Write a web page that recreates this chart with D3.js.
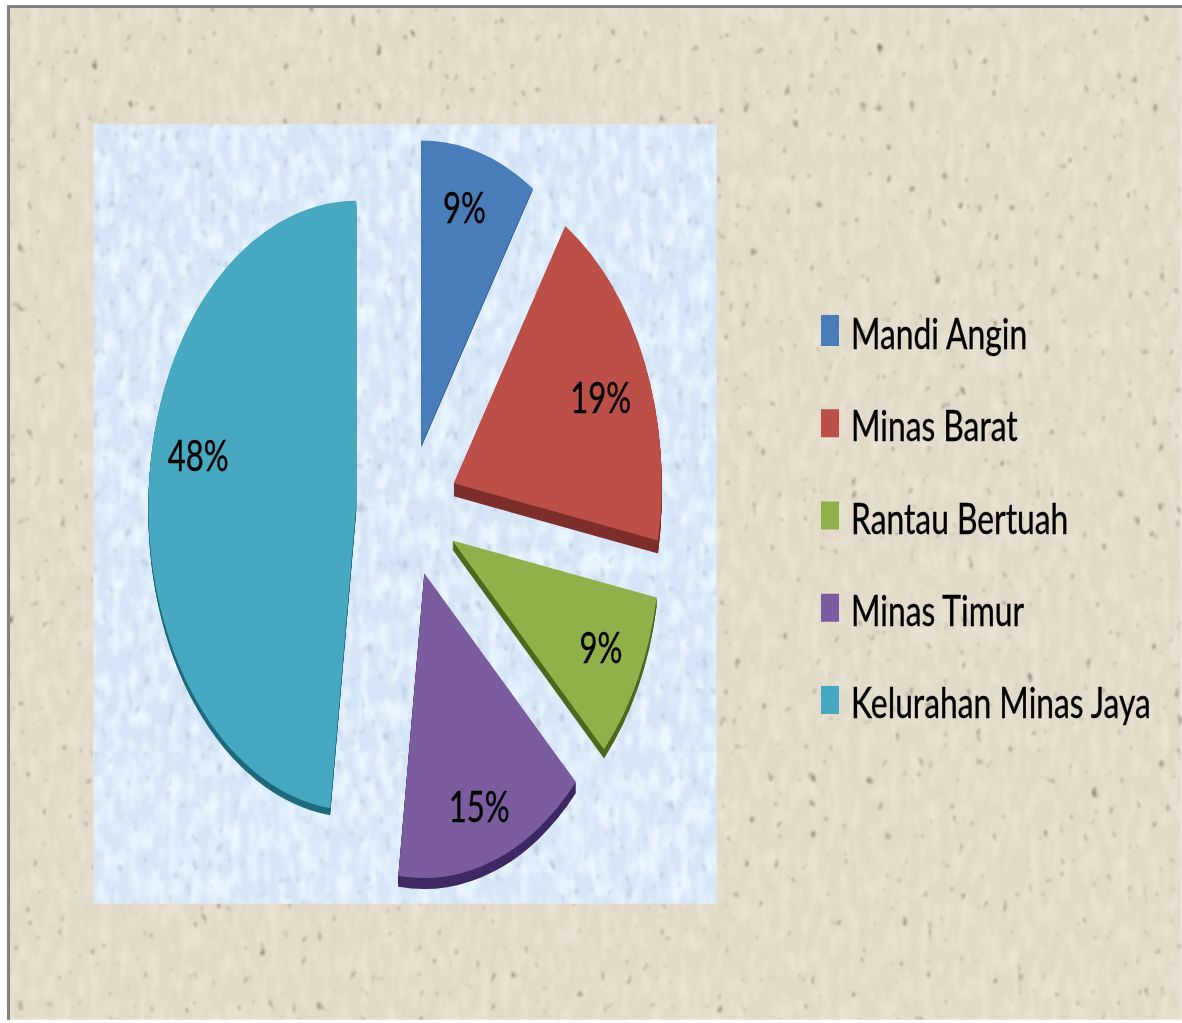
<!DOCTYPE html>
<html>
<head>
<meta charset="utf-8">
<style>
html, body { margin: 0; padding: 0; background: #fff; overflow: hidden; }
svg { display: block; }
</style>
<script src="https://cdn.jsdelivr.net/npm/d3@7"></script>
</head>
<body>
<div id="chart"></div>
<script>
var categories = ["Mandi Angin", "Minas Barat", "Rantau Bertuah", "Minas Timur", "Kelurahan Minas Jaya"];
var values = [9, 19, 9, 15, 48];
var colors = ["#4a7dba", "#bd4f4a", "#90b04a", "#7a5c9f", "#47a8c2"];
var rimColors = ["#345a88", "#7d2f2b", "#4f6a1e", "#3f2a63", "#1f6b7d"];
var rimDepths = [2, 13, 9, 11, 7];
var labelNudgeX = [-2, -2, 4, 0, 4];
var labelNudgeY = [-10, 8, -1, 9, -36];

var width = 1182, height = 1023;
var cx = 407, cy = 510, rx = 208, ry = 305;
var explodeX = 0.245, explodeY = 0.22, labelAt = 0.78;

var svg = d3.select("#chart").append("svg")
    .attr("width", width)
    .attr("height", height);

var defs = svg.append("defs");

// paper grain: soft light mottling plus a few dark specks
function grain(id, seed, base, light, dark) {
    var f = defs.append("filter").attr("id", id)
        .attr("x", 0).attr("y", 0).attr("width", 1).attr("height", 1)
        .attr("color-interpolation-filters", "sRGB");
    f.append("feTurbulence").attr("type", "fractalNoise")
        .attr("baseFrequency", "0.1 0.04").attr("numOctaves", 2).attr("seed", seed).attr("result", "n1");
    f.append("feColorMatrix").attr("in", "n1").attr("type", "matrix")
        .attr("values", light).attr("result", "mottle");
    f.append("feTurbulence").attr("type", "fractalNoise")
        .attr("baseFrequency", "0.12 0.07").attr("numOctaves", 2).attr("seed", seed + 7).attr("result", "n2");
    f.append("feColorMatrix").attr("in", "n2").attr("type", "matrix")
        .attr("values", dark).attr("result", "specks");
    f.append("feFlood").attr("flood-color", base).attr("result", "flat");
    f.append("feMerge").attr("result", "all").call(function (m) {
        m.append("feMergeNode").attr("in", "flat");
        m.append("feMergeNode").attr("in", "mottle");
        m.append("feMergeNode").attr("in", "specks");
    });
    f.append("feGaussianBlur").attr("in", "all").attr("stdDeviation", "0.9 1.2");
}
grain("paper", 4, "#e1dac9",
    "0 0 0 0 .94  0 0 0 0 .91  0 0 0 0 .85  1.7 0 0 0 -.7",
    "0 0 0 0 .45  0 0 0 0 .42  0 0 0 0 .36  4 0 0 0 -2.85");
grain("ice", 9, "#d6e5f7",
    "0 0 0 0 .92  0 0 0 0 .97  0 0 0 0 1  0 2.6 0 0 -1",
    "0 0 0 0 .72  0 0 0 0 .78  0 0 0 0 .86  4 0 0 0 -2.6");
grain("ice2", 15, "#d8e7f8",
    "0 0 0 0 .92  0 0 0 0 .97  0 0 0 0 1  0 2.6 0 0 -1",
    "0 0 0 0 .72  0 0 0 0 .78  0 0 0 0 .86  4 0 0 0 -2.6");

defs.append("filter").attr("id", "soft")
    .append("feGaussianBlur").attr("stdDeviation", 0.5);

svg.append("rect").attr("x", 8).attr("y", 7).attr("width", width - 8).attr("height", height - 10)
    .attr("filter", "url(#paper)");
svg.append("path")
    .attr("d", "M8.5 1020V6.5H" + width)
    .attr("fill", "none").attr("stroke", "#808080").attr("stroke-width", 3);

// two panel tiles, the upper one runs on under the lower one
svg.append("rect").attr("x", 93).attr("y", 124).attr("width", 624).attr("height", 640)
    .attr("filter", "url(#ice)");
svg.append("rect").attr("x", 93).attr("y", 751).attr("width", 624).attr("height", 153)
    .attr("filter", "url(#ice2)");

var x = d3.scaleLinear().domain([-1, 1]).range([cx - rx, cx + rx]);
var y = d3.scaleLinear().domain([-1, 1]).range([cy - ry, cy + ry]);

var pie = d3.pie().sort(null).value(function (d) { return d; });
var arc = d3.arc().innerRadius(0).outerRadius(1);
var slices = pie(values);

function mid(d) { return (d.startAngle + d.endAngle) / 2; }

var g = svg.selectAll(".slice")
    .data(slices)
    .enter()
    .append("g")
    .attr("class", "slice")
    .attr("filter", "url(#soft)");

// rim: the same wedge stacked downwards, top face goes last
g.each(function (d, i) {
    var el = d3.select(this);
    var ox = x(explodeX * Math.sin(mid(d))), oy = y(-explodeY * Math.cos(mid(d)));
    d3.range(rimDepths[i], 0, -1).forEach(function (k) {
        el.append("path")
            .attr("d", arc(d))
            .attr("fill", rimColors[i])
            .attr("transform", "translate(" + ox + "," + (oy + k) + ") scale(" + rx + "," + ry + ")");
    });
    el.append("path")
        .attr("d", arc(d))
        .attr("fill", colors[i])
        .attr("transform", "translate(" + ox + "," + oy + ") scale(" + rx + "," + ry + ")");
});

g.append("text")
    .attr("transform", function (d, i) {
        var lx = x((explodeX + labelAt) * Math.sin(mid(d))) + labelNudgeX[i];
        var ly = y(-(explodeY + labelAt) * Math.cos(mid(d))) + labelNudgeY[i] + 16;
        return "translate(" + lx + "," + ly + ") scale(0.74,1)";
    })
    .attr("text-anchor", "middle")
    .attr("font-family", "Lato")
    .attr("font-size", 42)
    .attr("fill", "#000")
    .attr("stroke", "#000")
    .attr("stroke-width", 0.4)
    .text(function (d) { return d.value + "%"; });

// legend
var ly = d3.scalePoint().domain(categories).range([331, 700]);
var legend = svg.selectAll(".legend")
    .data(categories)
    .enter()
    .append("g")
    .attr("class", "legend")
    .attr("filter", "url(#soft)");

legend.append("rect")
    .attr("x", 821)
    .attr("y", function (d, i) { return ly(d) - (i === 0 ? 16 : 14); })
    .attr("width", 18)
    .attr("height", function (d, i) { return i === 0 ? 31 : 28; })
    .attr("fill", function (d, i) { return colors[i]; });

legend.append("text")
    .attr("transform", function (d) { return "translate(851," + (ly(d) + 18) + ") scale(0.757,1)"; })
    .attr("font-family", "Lato")
    .attr("font-size", 42)
    .attr("fill", "#000")
    .attr("stroke", "#000")
    .attr("stroke-width", 0.4)
    .text(function (d) { return d; });
</script>
</body>
</html>
